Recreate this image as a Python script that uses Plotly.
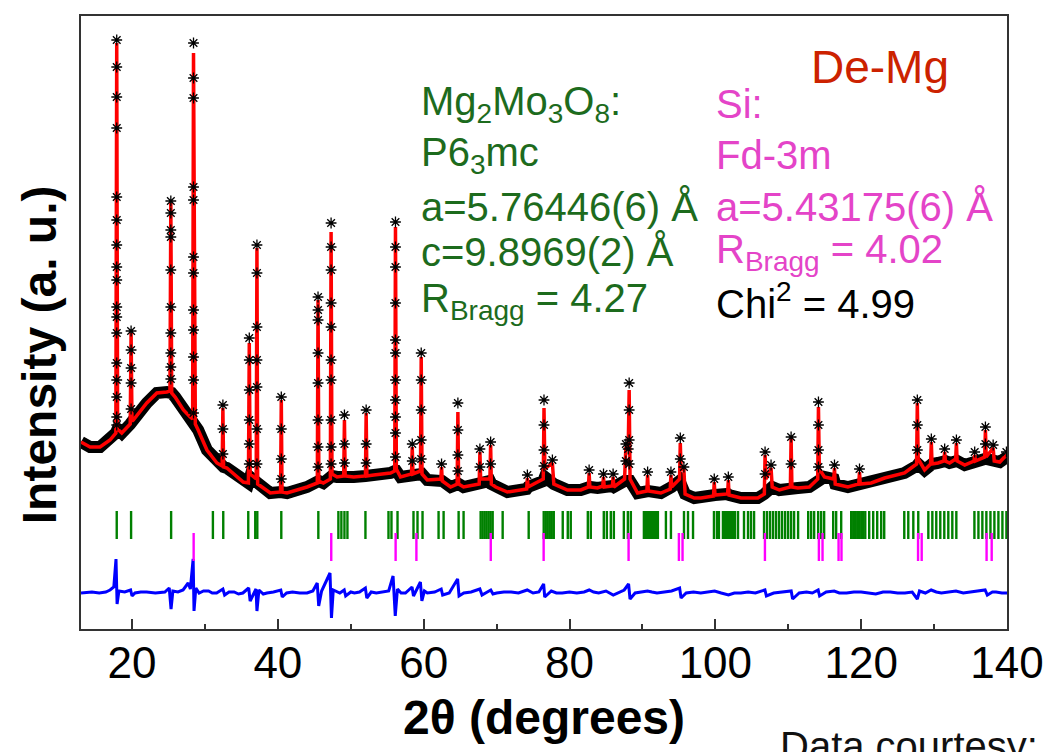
import plotly.graph_objects as go

# ---------------- data (2theta in degrees, intensity in arbitrary units) ----------------
calc_pts = [
    (13.0, 187), (14.24, 182), (15.61, 182), (16.98, 189), (17.78, 196), (17.90, 586), (18.02, 200),
    (18.59, 196), (19.75, 205), (19.87, 296), (19.99, 208), (20.18, 209), (22.02, 226), (23.40, 236),
    (24.77, 237), (25.20, 238), (25.32, 426), (25.44, 236), (25.91, 232), (27.05, 219), (27.97, 212),
    (28.31, 210), (28.43, 576), (28.56, 379), (28.68, 205), (29.07, 199), (30.27, 179), (31.64, 166),
    (32.36, 163), (32.46, 221), (32.56, 162), (33.01, 161), (35.25, 147), (35.96, 146), (36.08, 286),
    (36.20, 155), (37.03, 150), (37.13, 381), (37.23, 145), (37.82, 142), (38.96, 136), (40.37, 137),
    (40.47, 229), (40.57, 137), (41.26, 136), (44.00, 142), (45.41, 146), (45.51, 329), (45.62, 148),
    (46.24, 146), (47.20, 150), (47.30, 397), (47.42, 155), (48.12, 152), (49.03, 153), (49.13, 209),
    (49.23, 153), (50.40, 152), (52.01, 153), (52.11, 216), (52.21, 153), (53.15, 154), (55.45, 156),
    (56.03, 158), (56.13, 402), (56.25, 160), (56.82, 152), (58.33, 155), (58.43, 182), (58.53, 155),
    (59.56, 158), (59.66, 272), (59.77, 155), (60.49, 149), (62.35, 150), (62.45, 162), (62.55, 148),
    (63.69, 142), (64.59, 145), (64.69, 217), (64.79, 145), (65.47, 142), (67.61, 145), (67.71, 177),
    (67.81, 150), (69.08, 150), (69.18, 184), (69.28, 145), (69.87, 142), (71.48, 137), (74.12, 140),
    (74.22, 151), (74.32, 142), (76.40, 150), (76.50, 221), (76.62, 160), (77.65, 166), (77.85, 145),
    (79.72, 139), (81.54, 139), (82.59, 142), (82.69, 156), (82.79, 142), (83.84, 141), (84.56, 143),
    (84.66, 152), (84.76, 142), (85.88, 143), (85.98, 152), (86.08, 142), (87.55, 150), (87.73, 182),
    (88.05, 180), (88.18, 239), (88.30, 150), (89.33, 136), (90.61, 138), (90.71, 154), (90.81, 138),
    (92.53, 136), (93.81, 140), (93.91, 154), (94.01, 142), (95.09, 150), (95.19, 186), (95.30, 160),
    (95.69, 159), (95.85, 135), (97.11, 131), (98.03, 131), (99.75, 133), (99.85, 147), (99.95, 134),
    (101.68, 135), (101.78, 149), (101.88, 134), (103.52, 131), (105.82, 131), (106.72, 135),
    (106.82, 174), (106.95, 150), (107.64, 161), (107.80, 142), (108.78, 139), (110.29, 142),
    (110.39, 191), (110.50, 142), (111.31, 141), (112.90, 142), (114.04, 150), (114.14, 222),
    (114.26, 160), (114.96, 152), (116.24, 150), (116.34, 161), (116.44, 145), (118.18, 142),
    (119.67, 145), (119.77, 157), (119.87, 145), (121.38, 146), (123.21, 151), (125.95, 156),
    (127.60, 165), (127.70, 226), (127.82, 170), (128.70, 159), (129.52, 165), (129.62, 187),
    (129.72, 165), (130.54, 166), (131.35, 168), (131.45, 177), (131.55, 168), (132.13, 166),
    (132.96, 170), (133.06, 186), (133.16, 168), (134.20, 164), (135.47, 168), (135.57, 174),
    (135.67, 168), (136.94, 172), (137.04, 199), (137.15, 172), (138.10, 181), (138.25, 168),
    (139.01, 167), (139.92, 174), (140.0, 172),
]

# observed pattern: dense noisy band along the background ...
obs_band_pts = [
    (13.0, 187), (14.24, 182), (15.61, 182), (16.98, 189), (17.78, 196), (18.02, 200), (18.59, 196),
    (19.75, 205), (19.99, 208), (20.18, 209), (22.02, 226), (23.40, 236), (24.77, 237), (25.20, 238),
    (25.44, 236), (25.91, 232), (27.05, 219), (27.97, 212), (28.31, 210), (28.68, 205), (29.07, 199),
    (30.27, 179), (31.64, 166), (32.36, 163), (32.56, 162), (33.01, 161), (35.25, 147), (35.96, 146),
    (36.20, 152), (37.03, 148), (37.23, 145), (37.82, 142), (38.96, 136), (40.37, 137), (40.57, 137),
    (41.26, 136), (44.00, 142), (45.41, 146), (45.62, 148), (46.24, 146), (47.20, 150), (47.42, 153),
    (48.12, 152), (49.03, 153), (49.23, 153), (50.40, 152), (52.01, 153), (52.21, 153), (53.15, 154),
    (55.45, 156), (56.03, 158), (56.25, 158), (56.82, 152), (58.33, 155), (58.53, 155), (59.56, 156),
    (59.77, 155), (60.49, 149), (62.35, 150), (62.55, 148), (63.69, 142), (64.59, 145), (64.79, 145),
    (65.47, 142), (67.61, 145), (67.81, 148), (69.08, 148), (69.28, 145), (69.87, 142), (71.48, 137),
    (74.12, 140), (74.32, 142), (76.40, 148), (76.62, 152), (77.85, 145), (79.72, 139), (81.54, 139),
    (82.59, 142), (82.79, 142), (83.84, 141), (84.56, 143), (84.76, 142), (85.88, 143), (86.08, 142),
    (87.55, 148), (88.30, 148), (89.33, 136), (90.61, 138), (90.81, 138), (92.53, 136), (93.81, 140),
    (94.01, 142), (95.09, 148), (95.85, 135), (97.11, 131), (98.03, 131), (99.75, 133), (99.95, 134),
    (101.68, 135), (101.88, 134), (103.52, 131), (105.82, 131), (106.72, 135), (107.80, 142),
    (108.78, 139), (110.29, 142), (110.50, 142), (111.31, 141), (112.90, 142), (114.04, 148),
    (114.26, 152), (114.96, 152), (116.24, 150), (116.44, 145), (118.18, 142), (119.67, 145),
    (119.87, 145), (121.38, 146), (123.21, 151), (125.95, 156), (127.60, 163), (127.82, 165),
    (128.70, 159), (129.52, 165), (129.72, 165), (130.54, 166), (131.35, 168), (131.55, 168),
    (132.13, 166), (132.96, 168), (133.16, 168), (134.20, 164), (135.47, 168), (135.67, 168),
    (136.94, 170), (137.15, 170), (138.25, 168), (139.01, 167), (140.0, 172),
]

# ... and individual observed points (asterisks) on the Bragg peaks
obs_peak_pts = [
    (17.90, 204), (17.90, 212), (17.90, 232), (17.90, 249), (17.90, 266), (17.90, 296), (17.90, 312),
    (17.90, 322), (17.90, 349), (17.90, 362), (17.90, 384), (17.90, 409), (17.90, 432), (17.90, 501),
    (17.90, 532), (17.90, 562), (17.90, 589),
    (19.87, 220), (19.87, 246), (19.87, 261), (19.87, 279), (19.87, 298),
    (25.32, 250), (25.32, 262), (25.32, 276), (25.32, 296), (25.32, 322), (25.32, 359), (25.32, 392),
    (25.32, 399), (25.32, 416), (25.32, 428),
    (28.43, 216), (28.43, 249), (28.43, 272), (28.43, 299), (28.43, 319), (28.43, 356), (28.43, 372),
    (28.43, 429), (28.43, 442), (28.43, 531), (28.43, 551), (28.43, 586),
    (32.46, 175), (32.46, 200), (32.46, 224),
    (36.08, 165), (36.08, 185), (36.08, 209), (36.08, 239), (36.08, 269), (36.08, 291),
    (37.13, 165), (37.13, 200), (37.13, 242), (37.13, 269), (37.13, 302), (37.13, 356), (37.13, 384),
    (40.47, 150), (40.47, 170), (40.47, 200), (40.47, 232),
    (45.51, 162), (45.51, 182), (45.51, 209), (45.51, 246), (45.51, 276), (45.51, 309), (45.51, 319),
    (45.51, 332),
    (47.30, 165), (47.30, 182), (47.30, 209), (47.30, 249), (47.30, 269), (47.30, 302), (47.30, 326),
    (47.30, 359), (47.30, 382), (47.30, 406),
    (49.13, 166), (49.13, 185), (49.13, 214),
    (52.11, 166), (52.11, 185), (52.11, 219),
    (56.13, 172), (56.13, 196), (56.13, 212), (56.13, 229), (56.13, 249), (56.13, 276), (56.13, 289),
    (56.13, 326), (56.13, 362), (56.13, 382), (56.13, 407),
    (58.43, 168), (58.43, 185),
    (59.66, 170), (59.66, 189), (59.66, 219), (59.66, 249), (59.66, 276),
    (62.45, 165),
    (64.69, 158), (64.69, 174), (64.69, 199), (64.69, 226),
    (67.71, 162), (67.71, 180), (69.18, 165), (69.18, 187), (74.22, 154),
    (76.50, 163), (76.50, 179), (76.50, 204), (76.50, 229), (77.65, 169),
    (82.69, 159), (84.66, 155), (85.98, 155), (87.73, 168), (87.73, 185), (88.05, 180),
    (88.18, 165), (88.18, 189), (88.18, 219), (88.18, 246),
    (90.71, 157), (93.91, 157), (95.19, 170), (95.19, 191), (95.69, 162),
    (99.85, 150), (101.78, 152),
    (106.82, 155), (106.82, 177), (107.64, 164), (110.39, 165), (110.39, 192),
    (114.14, 162), (114.14, 179), (114.14, 204), (114.14, 227),
    (116.34, 164), (119.77, 160),
    (127.70, 179), (127.70, 204), (127.70, 229),
    (129.62, 190), (131.45, 180), (133.06, 189), (135.57, 177), (137.04, 185), (137.04, 202),
    (138.10, 184), (139.92, 177),
]

diff_pts = [
    (13.0, 0), (14.5, 1), (15.5, 0), (16.4, 1), (16.98, 3), (17.5, 6), (17.80, 34), (17.95, -11),
    (18.2, 2), (19.0, 1), (19.8, 3), (20.0, -3), (20.4, 0), (21.2, 1), (22.0, 1), (23.2, 0),
    (24.5, 1), (25.1, 5), (25.35, -16), (25.6, 2), (26.3, 1), (27.0, 3), (27.7, 10), (28.0, 4),
    (28.38, 34), (28.5, -18), (28.75, 5), (29.2, 0), (29.8, 2), (30.5, 2), (31.0, 0), (31.6, 0),
    (32.46, 4), (32.7, -2), (33.3, 1), (34.0, 1), (34.6, -1), (35.2, 0), (36.0, 5), (36.2, -8),
    (37.0, 4), (37.13, -18), (37.4, 3), (38.0, -1), (38.5, 0), (39.4, 1), (40.4, 3), (40.6, -4),
    (41.2, 0), (42.0, 1), (43.0, 0), (44.0, 0), (44.8, 2), (45.4, 10), (45.6, -13), (46.0, 2),
    (47.15, 20), (47.35, -25), (47.6, 3), (48.5, 0), (49.1, 3), (49.3, -3), (50.0, 1), (50.5, 0),
    (51.2, 1), (52.0, 5), (52.2, -5), (52.8, 1), (53.5, 0), (54.5, 1), (55.2, 2), (55.8, 17),
    (56.1, -23), (56.4, 4), (56.9, 0), (57.5, 0), (58.4, 6), (58.6, -3), (59.55, 11), (59.75, -8),
    (60.1, 2), (60.5, 0), (61.5, 1), (62.4, 4), (62.6, -2), (63.5, 0), (64.65, 14), (64.85, -3),
    (65.5, 0), (66.5, 1), (67.7, 4), (68.0, -2), (69.2, 3), (69.5, -1), (70.0, 0), (71.0, 1),
    (72.0, 1), (73.0, 0), (74.2, 3), (75.0, 0), (75.8, 1), (76.45, 9), (76.6, -4), (77.5, 2),
    (78.2, 0), (79.0, 0), (80.0, 1), (81.0, 0), (82.0, 1), (82.7, 3), (83.3, 1), (84.0, 0),
    (85.0, 2), (86.0, -2), (86.8, 1), (87.5, 3), (88.1, 9), (88.3, -6), (89.0, 0), (90.0, 1),
    (90.7, 2), (91.3, 1), (92.0, 0), (93.0, 1), (94.0, 2), (95.1, 5), (95.3, -5), (96.0, 0),
    (97.0, 1), (98.0, 0), (99.0, 1), (99.9, 2), (100.8, 0), (101.8, -2), (102.6, 0), (103.5, 0),
    (104.5, 1), (105.5, 0), (106.8, 3), (107.0, -3), (108.0, 0), (109.0, 1), (110.4, 2), (110.6, -6),
    (111.5, 0), (112.5, 1), (113.3, 0), (114.1, 3), (114.3, -3), (115.2, 1), (116.3, 2), (117.0, 0),
    (118.0, 0), (119.0, 1), (120.0, 1), (121.0, 0), (122.0, -1), (123.0, 1), (124.0, 1), (125.0, 0),
    (126.0, 0), (127.0, 1), (127.7, -6), (128.0, 2), (128.8, 0), (129.6, 3), (130.3, 1), (131.0, 0),
    (132.0, 1), (133.0, 2), (134.0, 0), (135.0, 1), (136.0, 2), (137.0, 3), (137.3, -2), (138.0, 1),
    (138.5, 1), (139.3, 0), (140.0, 0),
]

mgmo_ticks = [
    17.90, 19.87, 25.36, 31.09, 32.51, 35.94, 36.90, 37.18, 40.47, 45.55, 48.30, 48.71, 49.13, 49.54,
    52.01, 55.17, 55.58, 56.41, 58.60, 59.15, 59.84, 62.04, 62.73, 64.79, 65.47, 67.81, 68.08,
    68.36, 68.63, 68.91, 69.18, 69.46, 70.83, 74.40, 76.46, 76.74, 77.01, 77.29, 77.56, 77.84,
    79.07, 79.76, 80.17, 82.51, 82.92, 84.70, 85.12, 85.66, 86.08, 87.45, 88.00, 88.41, 90.20,
    90.47, 90.75, 91.02, 91.30, 91.57, 91.85, 92.12, 93.22, 93.91, 95.70, 96.25, 96.94, 99.81,
    100.22, 100.49, 101.04, 101.32, 101.59, 101.87, 102.14, 102.42, 102.70, 103.11, 103.93,
    104.48, 104.89, 105.31, 106.68, 107.09, 107.51, 107.92, 108.33, 108.74, 109.15, 109.57,
    109.98, 110.39, 110.80, 111.35, 112.73, 113.14, 113.55, 114.10, 114.51, 114.92, 116.16,
    116.57, 117.26, 118.63, 118.91, 119.18, 119.46, 119.73, 120.01, 120.28, 120.56, 121.10,
    121.65, 122.20, 122.75, 123.16, 125.91, 126.46, 127.15, 127.83, 129.21, 129.76, 130.30,
    130.85, 131.40, 131.95, 132.50, 133.05, 135.53, 136.08, 136.62, 137.17, 137.73, 138.27,
    138.82, 139.37, 139.92,
]

si_ticks = [28.45, 47.32, 56.15, 59.0, 69.2, 76.45, 88.1, 95.0, 95.5, 106.8, 114.2, 114.7,
            116.9, 117.3, 127.8, 128.3, 137.2, 137.9]

x_tick_values = [20, 40, 60, 80, 100, 120, 140]

# levels (arbitrary units) of the lower panels
diff_level = 36
mgmo_level = 104
si_level = 82

FONT = "Liberation Sans"
GREEN_TXT = "#1d6b1d"
PINK_TXT = "#e444c8"

fig = go.Figure()

fig.add_trace(go.Scatter(
    x=[p[0] for p in obs_band_pts], y=[p[1] for p in obs_band_pts], mode="lines",
    line=dict(color="black", width=12), name="observed", showlegend=False, hoverinfo="skip"))

fig.add_trace(go.Scatter(
    x=[p[0] for p in calc_pts], y=[p[1] for p in calc_pts], mode="lines",
    line=dict(color="#ff0000", width=3.5), name="calculated", showlegend=False))

fig.add_trace(go.Scatter(
    x=[p[0] for p in obs_peak_pts], y=[p[1] for p in obs_peak_pts], mode="markers",
    marker=dict(symbol="asterisk-open", size=9, color="black", line=dict(color="black", width=1.3)),
    name="observed", showlegend=False, hoverinfo="skip"))

fig.add_trace(go.Scatter(
    x=[p[0] for p in diff_pts], y=[diff_level + p[1] for p in diff_pts], mode="lines",
    line=dict(color="#0000ff", width=3), name="difference", showlegend=False))

fig.add_trace(go.Scatter(
    x=mgmo_ticks, y=[mgmo_level] * len(mgmo_ticks), mode="markers",
    marker=dict(symbol="line-ns", size=20, line=dict(color="#008000", width=2.4)),
    name="Mg2Mo3O8", showlegend=False))

fig.add_trace(go.Scatter(
    x=si_ticks, y=[si_level] * len(si_ticks), mode="markers",
    marker=dict(symbol="line-ns", size=20, line=dict(color="#ff00ff", width=2.4)),
    name="Si", showlegend=False))

ann = []
def txt(x, y, s, color, size=40, xref="x", yref="y", xanchor="left", yanchor="middle", **kw):
    ann.append(dict(x=x, y=y, xref=xref, yref=yref, text=s, showarrow=False, xanchor=xanchor,
                    yanchor=yanchor, font=dict(family=FONT, size=size, color=color), **kw))

# in-plot labels
txt(112.8, 562, "De-Mg", "#cc2200", size=46)
col1, col2 = 59.3, 99.8
rows = [525, 474, 422, 377, 328]
left_lines = ["Mg<sub>2</sub>Mo<sub>3</sub>O<sub>8</sub>:", "P6<sub>3</sub>mc", "a=5.76446(6) Å",
              "c=9.8969(2) Å", "R<sub>Bragg</sub> = 4.27"]
right_lines = ["Si:", "Fd-3m", "a=5.43175(6) Å", "R<sub>Bragg</sub> = 4.02"]
for r, s in zip(rows, left_lines):
    txt(col1, r, s, GREEN_TXT)
for r, s in zip(rows, right_lines):
    txt(col2, r, s, PINK_TXT)
txt(col2, rows[4], "Chi<sup>2</sup> = 4.99", "black")

# axis titles and footer
txt(-0.044, 0.447, "<b>Intensity (a. u.)</b>", "black", size=48, xref="paper", yref="paper",
    xanchor="center", textangle=-90)
txt(0.5, -0.145, "<b>2θ (degrees)</b>", "black", size=48, xref="paper", yref="paper",
    xanchor="center")
txt(0.753, -0.152, "Data courtesy:", "#111111", size=40, xref="paper", yref="paper",
    yanchor="top")

fig.update_layout(
    width=1055, height=752,
    margin=dict(l=81, r=48, t=16, b=123),
    paper_bgcolor="white", plot_bgcolor="white",
    font=dict(family=FONT, color="black"),
    annotations=ann,
    xaxis=dict(range=[13, 140], tickvals=x_tick_values, ticks="inside", ticklen=10, tickwidth=1.5,
               tickcolor="#333", showline=True, linecolor="#333", linewidth=2, mirror=True,
               showgrid=False, zeroline=False, tickfont=dict(size=44, color="black"),
               ticklabelstandoff=-6,
               minor=dict(tickvals=[30, 50, 70, 90, 110, 130], ticks="inside", ticklen=5,
                          tickwidth=1.5, tickcolor="#333")),
    yaxis=dict(range=[0, 613], showticklabels=False, ticks="", showline=True, linecolor="#333",
               linewidth=2, mirror=True, showgrid=False, zeroline=False),
)

fig.write_html("out.html")
